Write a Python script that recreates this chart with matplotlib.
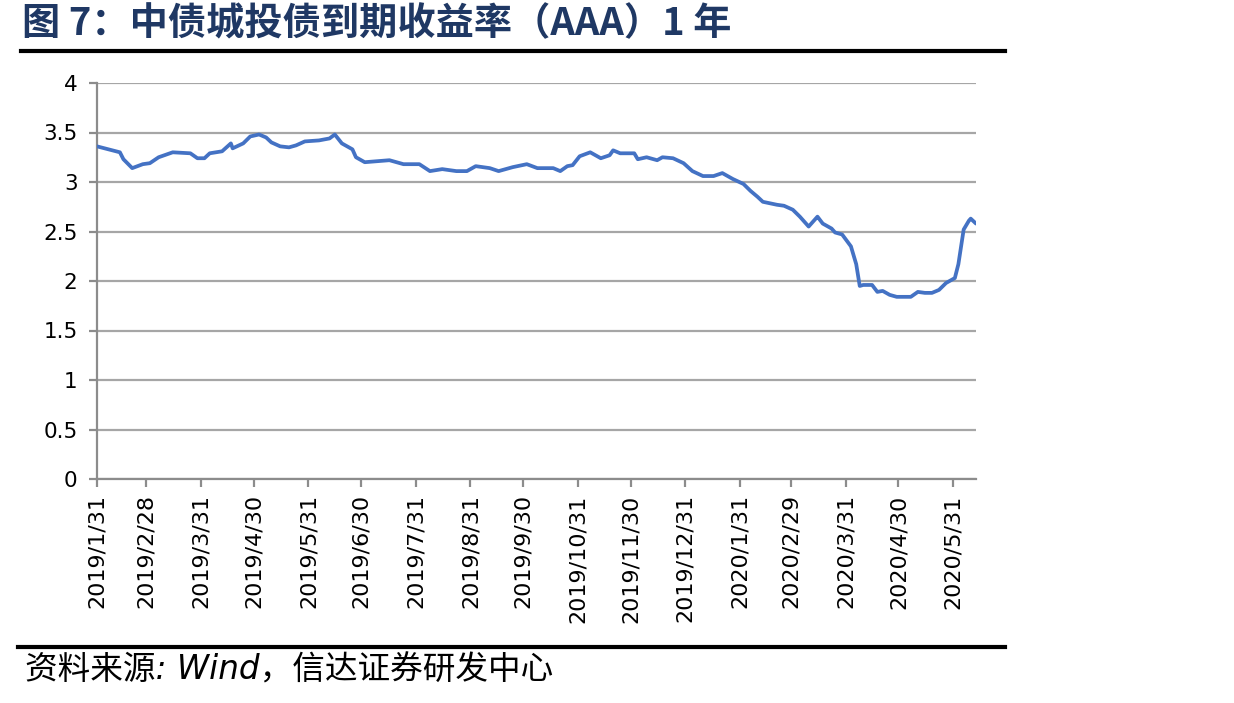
import matplotlib
matplotlib.use('Agg')
import matplotlib.pyplot as plt
from matplotlib.lines import Line2D
import pandas as pd

plt.rcParams['font.family'] = ['DejaVu Sans', 'Noto Sans CJK SC']

# ---- data ----
dates = [
    '2019-01-31', '2019-02-13', '2019-02-15', '2019-02-20', '2019-02-26', '2019-03-02',
    '2019-03-07', '2019-03-15', '2019-03-25', '2019-03-29', '2019-04-02', '2019-04-05',
    '2019-04-12', '2019-04-17', '2019-04-18', '2019-04-24', '2019-04-28', '2019-05-03',
    '2019-05-07', '2019-05-10', '2019-05-15', '2019-05-20', '2019-05-24', '2019-05-29',
    '2019-06-06', '2019-06-12', '2019-06-15', '2019-06-19', '2019-06-25', '2019-06-27',
    '2019-07-02', '2019-07-09', '2019-07-16', '2019-07-24', '2019-08-02', '2019-08-08',
    '2019-08-15', '2019-08-23', '2019-08-29', '2019-09-03', '2019-09-11', '2019-09-16',
    '2019-09-24', '2019-10-02', '2019-10-08', '2019-10-17', '2019-10-21', '2019-10-25',
    '2019-10-28', '2019-11-01', '2019-11-07', '2019-11-13', '2019-11-18', '2019-11-20',
    '2019-11-24', '2019-12-02', '2019-12-04', '2019-12-09', '2019-12-15', '2019-12-18',
    '2019-12-24', '2019-12-30', '2020-01-04', '2020-01-10', '2020-01-16', '2020-01-21',
    '2020-01-27', '2020-02-02', '2020-02-06', '2020-02-10', '2020-02-13', '2020-02-21',
    '2020-02-25', '2020-03-01', '2020-03-05', '2020-03-10', '2020-03-14', '2020-03-15',
    '2020-03-18', '2020-03-23', '2020-03-25', '2020-03-29', '2020-04-03', '2020-04-06',
    '2020-04-08', '2020-04-10', '2020-04-15', '2020-04-18', '2020-04-21', '2020-04-25',
    '2020-04-29', '2020-05-07', '2020-05-11', '2020-05-15', '2020-05-19', '2020-05-23',
    '2020-05-27', '2020-06-01', '2020-06-03', '2020-06-06', '2020-06-09', '2020-06-10',
    '2020-06-13',
]
yields = [
    3.36, 3.30, 3.23, 3.14, 3.18, 3.19,
    3.25, 3.30, 3.29, 3.24, 3.24, 3.29,
    3.31, 3.39, 3.34, 3.39, 3.46, 3.48,
    3.45, 3.40, 3.36, 3.35, 3.37, 3.41,
    3.42, 3.44, 3.48, 3.39, 3.33, 3.25,
    3.20, 3.21, 3.22, 3.18, 3.18, 3.11,
    3.13, 3.11, 3.11, 3.16, 3.14, 3.11,
    3.15, 3.18, 3.14, 3.14, 3.11, 3.16,
    3.17, 3.26, 3.30, 3.24, 3.27, 3.32,
    3.29, 3.29, 3.23, 3.25, 3.22, 3.25,
    3.24, 3.19, 3.11, 3.06, 3.06, 3.09,
    3.03, 2.98, 2.91, 2.85, 2.80, 2.77,
    2.76, 2.72, 2.65, 2.55, 2.63, 2.65,
    2.58, 2.53, 2.49, 2.47, 2.35, 2.17,
    1.95, 1.96, 1.96, 1.89, 1.90, 1.86,
    1.84, 1.84, 1.89, 1.88, 1.88, 1.91,
    1.98, 2.03, 2.17, 2.52, 2.61, 2.63,
    2.58,
]
tick_dates = [
    '2019-01-31', '2019-02-28', '2019-03-31', '2019-04-30', '2019-05-31', '2019-06-30',
    '2019-07-31', '2019-08-31', '2019-09-30', '2019-10-31', '2019-11-30', '2019-12-31',
    '2020-01-31', '2020-02-29', '2020-03-31', '2020-04-30', '2020-05-31',
]
tick_labels = [
    '2019/1/31', '2019/2/28', '2019/3/31', '2019/4/30', '2019/5/31', '2019/6/30',
    '2019/7/31', '2019/8/31', '2019/9/30', '2019/10/31', '2019/11/30', '2019/12/31',
    '2020/1/31', '2020/2/29', '2020/3/31', '2020/4/30', '2020/5/31',
]
y_ticks = [0, 0.5, 1, 1.5, 2, 2.5, 3, 3.5, 4]
y_tick_labels = ['0', '0.5', '1', '1.5', '2', '2.5', '3', '3.5', '4']
x_start, x_end = '2019-01-31', '2020-06-13'

title = '图 7：中债城投债到期收益率（AAA）1 年'
source = '资料来源: Wind，信达证券研发中心'

# ---- figure ----
W, H = 1234, 703
fig = plt.figure(figsize=(W / 100, H / 100), dpi=100)
ax = fig.add_axes([97 / W, 1 - 479 / H, (976 - 97) / W, (479 - 83) / H])

ax.plot(pd.to_datetime(dates), yields, color='#4472C4', lw=2.7,
        solid_joinstyle='round', solid_capstyle='round', zorder=3)

ax.set_xlim(pd.Timestamp(x_start), pd.Timestamp(x_end))
ax.set_ylim(0, 4)
ax.set_yticks(y_ticks)
ax.set_yticklabels(y_tick_labels, fontsize=15.5)
ax.set_xticks(pd.to_datetime(tick_dates))
ax.set_xticklabels(tick_labels, rotation=90, fontsize=16, va='top', ha='center')

ax.yaxis.grid(True, color='#A6A6A6', lw=1.6)
ax.set_axisbelow(True)
for s in ['top', 'right']:
    ax.spines[s].set_visible(False)
for s in ['left', 'bottom']:
    ax.spines[s].set_color('#8C8C8C')
    ax.spines[s].set_linewidth(1.6)
ax.tick_params(axis='both', colors='#8C8C8C', width=1.6, length=6, labelcolor='black')
ax.tick_params(axis='x', pad=5)
ax.tick_params(axis='y', pad=8)

# title and rules
fig.text(22 / W, 1 - 24 / H, title, fontsize=27.5, fontweight='bold', color='#1F3864',
         va='center', ha='left', family=['Noto Sans CJK SC', 'DejaVu Sans'])
fig.add_artist(Line2D([21 / W, 1005 / W], [1 - 51 / H] * 2, color='black', lw=3))
fig.add_artist(Line2D([18 / W, 1005 / W], [1 - 647 / H] * 2, color='black', lw=3))
fig.text(25 / W, 1 - 670 / H, source, fontsize=23.5, style='italic', color='black',
         va='center', ha='left')

fig.savefig('out.png', dpi=100)
